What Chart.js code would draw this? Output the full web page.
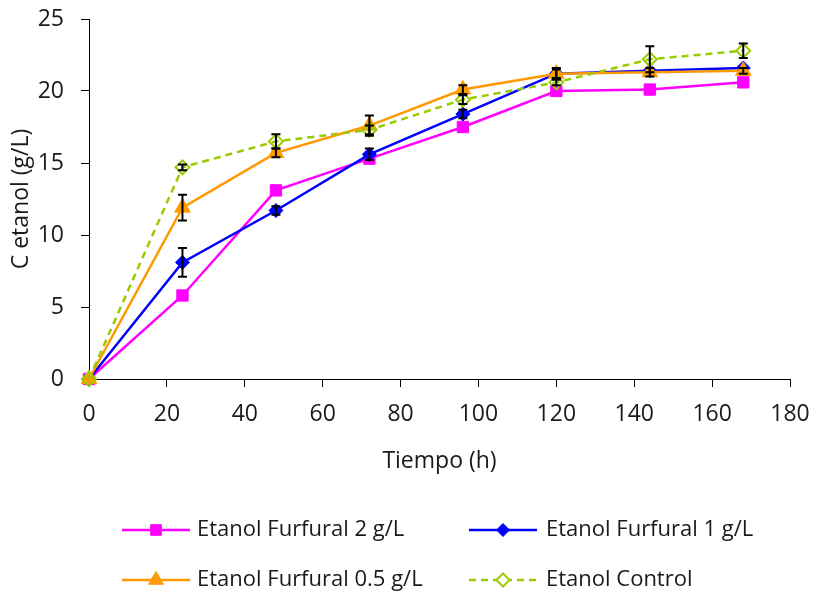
<!DOCTYPE html>
<html>
<head>
<meta charset="utf-8">
<script src="https://cdn.jsdelivr.net/npm/chart.js@4"></script>
<style>
  html, body { margin: 0; padding: 0; background: #fff; }
  #wrap { width: 816px; height: 595px; }
</style>
</head>
<body>
<div id="wrap"><canvas id="c" width="816" height="595"></canvas></div>
<script>
// ---- data ----
const hours = [0, 24, 48, 72, 96, 120, 144, 168];
const furfural2 = [0, 5.8, 13.1, 15.3, 17.5, 20.0, 20.1, 20.6];
const furfural1 = [0, 8.1, 11.7, 15.6, 18.4, 21.2, 21.4, 21.6];
const furfural05 = [0, 11.9, 15.7, 17.6, 20.1, 21.2, 21.3, 21.4];
const control = [0, 14.7, 16.5, 17.3, 19.4, 20.6, 22.2, 22.8];
const err2 = [0, 0, 0, 0, 0, 0, 0, 0];
const err1 = [0, 1.0, 0.3, 0.4, 0.3, 0.4, 0, 0];
const err05 = [0, 0.9, 0.3, 0.7, 0.3, 0.3, 0.3, 0.2];
const errC = [0, 0.2, 0.5, 0.3, 0.3, 0.2, 0.9, 0.5];
const seriesNames = ['Etanol Furfural 2 g/L', 'Etanol Furfural 1 g/L', 'Etanol Furfural 0.5 g/L', 'Etanol Control'];
const xTicks = [0, 20, 40, 60, 80, 100, 120, 140, 160, 180];
const yTicks = [0, 5, 10, 15, 20, 25];
const xTitle = 'Tiempo (h)';
const yTitle = 'C etanol (g/L)';

const FONT = "'Open Sans', sans-serif";
const pts = (arr) => hours.map((h, i) => ({ x: h, y: arr[i] }));

const styles = [
  { color: '#FF00FF', point: 'rect', radius: 8, fill: '#FF00FF', dash: [] },
  { color: '#0000FF', point: 'rectRot', radius: 7, fill: '#0000FF', dash: [] },
  { color: '#FF9900', point: 'triangle', radius: 9, fill: '#FF9900', dash: [] },
  { color: '#99CC00', point: 'rectRot', radius: 7, fill: 'rgba(255,255,255,0)', dash: [7, 5] }
];
const values = [furfural2, furfural1, furfural05, control];
const errors = [err2, err1, err05, errC];

const datasets = values.map((v, i) => ({
  label: seriesNames[i],
  data: pts(v),
  errs: errors[i],
  borderColor: styles[i].color,
  backgroundColor: styles[i].fill,
  borderWidth: 2.5,
  borderDash: styles[i].dash,
  pointStyle: styles[i].point,
  pointRadius: styles[i].radius,
  pointBackgroundColor: styles[i].fill,
  pointBorderColor: styles[i].color,
  pointBorderWidth: i === 3 ? 2 : 1,
  tension: 0,
  fill: false,
  clip: false,
  order: 4 - i
}));

// error bars plugin
const errorBars = {
  id: 'errorBars',
  afterDatasetsDraw(chart) {
    const ctx = chart.ctx;
    const ys = chart.scales.y;
    ctx.save();
    ctx.strokeStyle = '#000';
    ctx.lineWidth = 2;
    chart.data.datasets.forEach((ds, di) => {
      const meta = chart.getDatasetMeta(di);
      meta.data.forEach((el, j) => {
        const e = ds.errs[j];
        if (!e) return;
        const v = ds.data[j].y;
        const x = el.x;
        const yt = ys.getPixelForValue(v + e);
        const yb = ys.getPixelForValue(v - e);
        ctx.beginPath();
        ctx.moveTo(x, yt); ctx.lineTo(x, yb);
        ctx.moveTo(x - 4.5, yt); ctx.lineTo(x + 4.5, yt);
        ctx.moveTo(x - 4.5, yb); ctx.lineTo(x + 4.5, yb);
        ctx.stroke();
      });
    });
    ctx.restore();
  }
};

// legend plugin (2x2 grid, line + marker samples)
const gridLegend = {
  id: 'gridLegend',
  afterDraw(chart) {
    const ctx = chart.ctx;
    const cols = [{ x0: 122, x1: 190, tx: 197 }, { x0: 469, x1: 537, tx: 546 }];
    const rows = [530, 580];
    ctx.save();
    chart.data.datasets.forEach((ds, i) => {
      const c = cols[i % 2];
      const y = rows[Math.floor(i / 2)];
      ctx.strokeStyle = ds.borderColor;
      ctx.lineWidth = 2.5;
      ctx.setLineDash(ds.borderDash || []);
      ctx.beginPath();
      ctx.moveTo(c.x0, y); ctx.lineTo(c.x1, y);
      ctx.stroke();
      ctx.setLineDash([]);
      const mx = (c.x0 + c.x1) / 2;
      const opts = {
        pointStyle: ds.pointStyle,
        radius: ds.pointRadius - 0.5,
        rotation: 0,
        borderWidth: ds.pointBorderWidth
      };
      ctx.fillStyle = i === 3 ? '#fff' : ds.pointBackgroundColor;
      ctx.strokeStyle = ds.pointBorderColor;
      ctx.lineWidth = ds.pointBorderWidth;
      Chart.helpers.drawPoint(ctx, opts, mx, y);
      ctx.fillStyle = '#1a1a1a';
      ctx.font = '22px ' + FONT;
      ctx.textBaseline = 'middle';
      ctx.textAlign = 'left';
      ctx.fillText(ds.label, c.tx, y);
    });
    ctx.restore();
  }
};

new Chart(document.getElementById('c'), {
  type: 'line',
  data: { datasets },
  options: {
    responsive: false,
    animation: false,
    layout: { autoPadding: false, padding: { left: 0, right: 26, top: 19, bottom: 116 } },
    plugins: { legend: { display: false }, tooltip: { enabled: false } },
    scales: {
      x: {
        type: 'linear',
        min: 0, max: 180,
        afterBuildTicks: (s) => { s.ticks = xTicks.map(v => ({ value: v })); },
        afterFit: (s) => { s.height = 100; s.paddingLeft = 0; s.paddingRight = 0; },
        grid: { drawOnChartArea: false, drawTicks: true, tickLength: 8, tickColor: '#000', tickWidth: 1 },
        border: { display: true, color: '#000', width: 1 },
        ticks: { color: '#1a1a1a', font: { family: FONT, size: 23 }, padding: 14, maxRotation: 0 },
        title: { display: true, text: xTitle, color: '#1a1a1a', font: { family: FONT, size: 23 }, padding: { top: 0, bottom: 4 } }
      },
      y: {
        type: 'linear',
        min: 0, max: 25,
        afterBuildTicks: (s) => { s.ticks = yTicks.map(v => ({ value: v })); },
        afterFit: (s) => { s.width = 89; s.paddingTop = 0; s.paddingBottom = 0; },
        grid: { drawOnChartArea: false, drawTicks: true, tickLength: 8, tickColor: '#000', tickWidth: 1 },
        border: { display: true, color: '#000', width: 1 },
        ticks: { color: '#1a1a1a', font: { family: FONT, size: 23 }, padding: 17 },
        title: { display: true, text: yTitle, color: '#1a1a1a', font: { family: FONT, size: 23 }, padding: { top: 8, bottom: 0 } }
      }
    }
  },
  plugins: [errorBars, gridLegend]
});
</script>
</body>
</html>
